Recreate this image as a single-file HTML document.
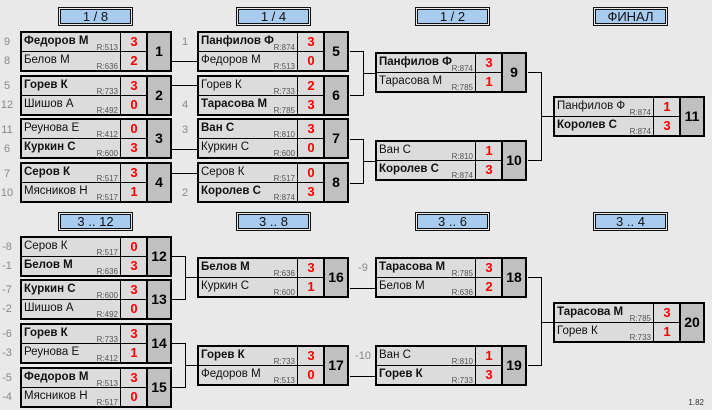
<!DOCTYPE html>
<html><head><meta charset="utf-8"><style>
body{margin:0;width:712px;height:410px;background:#e9e9e9;font-family:"Liberation Sans",sans-serif;position:relative;overflow:hidden}
.h{position:absolute;width:71px;height:15px;border:1px solid #111;box-shadow:inset 0 0 0 1px #e9e9e9,inset 0 0 0 2px #111;background:#a8cbf0;text-align:center;font-size:13px;line-height:15px;color:#111;padding:1px}
.m{position:absolute;width:148px;height:37px;border:2px solid #000;background:#dcdcdc}
.r{position:absolute;left:0;width:124px;height:18px}
.r1{top:0;border-bottom:1px solid #000}
.r2{top:19px}
.n{position:absolute;left:0;top:0;width:99px;height:18px;border-right:1px solid #000;font-size:11.5px;line-height:17px;padding-left:2px;box-sizing:border-box;white-space:nowrap;color:#111}
.b .n{font-weight:bold}
.rt{position:absolute;right:2px;bottom:-1px;font-size:8px;color:#555;line-height:9px;font-weight:normal}
.s{position:absolute;left:100px;width:24px;text-align:center;color:#f00;font-weight:bold;font-size:13px;line-height:18px;top:0}
.num{position:absolute;left:124px;top:0;width:22px;height:37px;border-left:2px solid #000;background:#c0c0c0;font-weight:bold;font-size:14px;line-height:37px;text-align:center;color:#000}
.sd{position:absolute;font-size:11px;color:#888;width:20px;text-align:center}
.v{position:absolute;right:8px;bottom:3px;font-size:8px;color:#333}
svg{position:absolute;left:0;top:0}
</style></head><body>
<svg width="712" height="410"><g stroke="#000" stroke-width="1" fill="none" shape-rendering="crispEdges">
<path d="M172 61.5H197M172 85.5H197M172 149.5H197M172 173.5H197"/>
<path d="M350 51.5H363.5V95.5H350M363 73.5H375M350 139.5H363.5V183.5H350M363 161.5H375"/>
<path d="M528 72.5H541.5V160.5H528M541 116.5H553"/>
<path d="M172 256.5H185.5V299.5H172M185 277.5H197M172 343.5H185.5V387.5H172M185 365.5H197"/>
<path d="M350 288.5H375M350 376.5H375"/>
<path d="M528 277.5H541.5V365.5H528M541 322.5H553"/>
</g></svg>

<div class="h" style="left:58px;top:7px">1 / 8</div>
<div class="h" style="left:236px;top:7px">1 / 4</div>
<div class="h" style="left:415px;top:7px">1 / 2</div>
<div class="h" style="left:593px;top:7px">ФИНАЛ</div>
<div class="h" style="left:58px;top:212px">3 .. 12</div>
<div class="h" style="left:236px;top:212px">3 .. 8</div>
<div class="h" style="left:415px;top:212px">3 .. 6</div>
<div class="h" style="left:593px;top:212px">3 .. 4</div>

<div class="sd" style="left:-3px;top:36px">9</div><div class="sd" style="left:-3px;top:55px">8</div>
<div class="sd" style="left:-3px;top:80px">5</div><div class="sd" style="left:-3px;top:99px">12</div>
<div class="sd" style="left:-3px;top:124px">11</div><div class="sd" style="left:-3px;top:143px">6</div>
<div class="sd" style="left:-3px;top:168px">7</div><div class="sd" style="left:-3px;top:187px">10</div>
<div class="sd" style="left:175px;top:36px">1</div><div class="sd" style="left:175px;top:99px">4</div>
<div class="sd" style="left:175px;top:124px">3</div><div class="sd" style="left:175px;top:187px">2</div>
<div class="sd" style="left:-3px;top:241px">-8</div><div class="sd" style="left:-3px;top:260px">-1</div>
<div class="sd" style="left:-3px;top:284px">-7</div><div class="sd" style="left:-3px;top:303px">-2</div>
<div class="sd" style="left:-3px;top:328px">-6</div><div class="sd" style="left:-3px;top:347px">-3</div>
<div class="sd" style="left:-3px;top:372px">-5</div><div class="sd" style="left:-3px;top:391px">-4</div>
<div class="sd" style="left:353px;top:262px">-9</div><div class="sd" style="left:353px;top:350px">-10</div>

<div class="m" style="left:20px;top:31px"><div class="r r1 b"><div class="n">Федоров М<span class="rt">R:513</span></div><div class="s">3</div></div><div class="r r2"><div class="n">Белов М<span class="rt">R:636</span></div><div class="s">2</div></div><div class="num">1</div></div>
<div class="m" style="left:20px;top:75px"><div class="r r1 b"><div class="n">Горев К<span class="rt">R:733</span></div><div class="s">3</div></div><div class="r r2"><div class="n">Шишов А<span class="rt">R:492</span></div><div class="s">0</div></div><div class="num">2</div></div>
<div class="m" style="left:20px;top:118px"><div class="r r1"><div class="n">Реунова Е<span class="rt">R:412</span></div><div class="s">0</div></div><div class="r r2 b"><div class="n">Куркин С<span class="rt">R:600</span></div><div class="s">3</div></div><div class="num">3</div></div>
<div class="m" style="left:20px;top:162px"><div class="r r1 b"><div class="n">Серов К<span class="rt">R:517</span></div><div class="s">3</div></div><div class="r r2"><div class="n">Мясников Н<span class="rt">R:517</span></div><div class="s">1</div></div><div class="num">4</div></div>

<div class="m" style="left:197px;top:31px"><div class="r r1 b"><div class="n">Панфилов Ф<span class="rt">R:874</span></div><div class="s">3</div></div><div class="r r2"><div class="n">Федоров М<span class="rt">R:513</span></div><div class="s">0</div></div><div class="num">5</div></div>
<div class="m" style="left:197px;top:75px"><div class="r r1"><div class="n">Горев К<span class="rt">R:733</span></div><div class="s">2</div></div><div class="r r2 b"><div class="n">Тарасова М<span class="rt">R:785</span></div><div class="s">3</div></div><div class="num">6</div></div>
<div class="m" style="left:197px;top:118px"><div class="r r1 b"><div class="n">Ван С<span class="rt">R:810</span></div><div class="s">3</div></div><div class="r r2"><div class="n">Куркин С<span class="rt">R:600</span></div><div class="s">0</div></div><div class="num">7</div></div>
<div class="m" style="left:197px;top:162px"><div class="r r1"><div class="n">Серов К<span class="rt">R:517</span></div><div class="s">0</div></div><div class="r r2 b"><div class="n">Королев С<span class="rt">R:874</span></div><div class="s">3</div></div><div class="num">8</div></div>

<div class="m" style="left:375px;top:52px"><div class="r r1 b"><div class="n">Панфилов Ф<span class="rt">R:874</span></div><div class="s">3</div></div><div class="r r2"><div class="n">Тарасова М<span class="rt">R:785</span></div><div class="s">1</div></div><div class="num">9</div></div>
<div class="m" style="left:375px;top:140px"><div class="r r1"><div class="n">Ван С<span class="rt">R:810</span></div><div class="s">1</div></div><div class="r r2 b"><div class="n">Королев С<span class="rt">R:874</span></div><div class="s">3</div></div><div class="num">10</div></div>

<div class="m" style="left:553px;top:96px"><div class="r r1"><div class="n">Панфилов Ф<span class="rt">R:874</span></div><div class="s">1</div></div><div class="r r2 b"><div class="n">Королев С<span class="rt">R:874</span></div><div class="s">3</div></div><div class="num">11</div></div>

<div class="m" style="left:20px;top:236px"><div class="r r1"><div class="n">Серов К<span class="rt">R:517</span></div><div class="s">0</div></div><div class="r r2 b"><div class="n">Белов М<span class="rt">R:636</span></div><div class="s">3</div></div><div class="num">12</div></div>
<div class="m" style="left:20px;top:279px"><div class="r r1 b"><div class="n">Куркин С<span class="rt">R:600</span></div><div class="s">3</div></div><div class="r r2"><div class="n">Шишов А<span class="rt">R:492</span></div><div class="s">0</div></div><div class="num">13</div></div>
<div class="m" style="left:20px;top:323px"><div class="r r1 b"><div class="n">Горев К<span class="rt">R:733</span></div><div class="s">3</div></div><div class="r r2"><div class="n">Реунова Е<span class="rt">R:412</span></div><div class="s">1</div></div><div class="num">14</div></div>
<div class="m" style="left:20px;top:367px"><div class="r r1 b"><div class="n">Федоров М<span class="rt">R:513</span></div><div class="s">3</div></div><div class="r r2"><div class="n">Мясников Н<span class="rt">R:517</span></div><div class="s">0</div></div><div class="num">15</div></div>

<div class="m" style="left:197px;top:257px"><div class="r r1 b"><div class="n">Белов М<span class="rt">R:636</span></div><div class="s">3</div></div><div class="r r2"><div class="n">Куркин С<span class="rt">R:600</span></div><div class="s">1</div></div><div class="num">16</div></div>
<div class="m" style="left:197px;top:345px"><div class="r r1 b"><div class="n">Горев К<span class="rt">R:733</span></div><div class="s">3</div></div><div class="r r2"><div class="n">Федоров М<span class="rt">R:513</span></div><div class="s">0</div></div><div class="num">17</div></div>

<div class="m" style="left:375px;top:257px"><div class="r r1 b"><div class="n">Тарасова М<span class="rt">R:785</span></div><div class="s">3</div></div><div class="r r2"><div class="n">Белов М<span class="rt">R:636</span></div><div class="s">2</div></div><div class="num">18</div></div>
<div class="m" style="left:375px;top:345px"><div class="r r1"><div class="n">Ван С<span class="rt">R:810</span></div><div class="s">1</div></div><div class="r r2 b"><div class="n">Горев К<span class="rt">R:733</span></div><div class="s">3</div></div><div class="num">19</div></div>

<div class="m" style="left:553px;top:302px"><div class="r r1 b"><div class="n">Тарасова М<span class="rt">R:785</span></div><div class="s">3</div></div><div class="r r2"><div class="n">Горев К<span class="rt">R:733</span></div><div class="s">1</div></div><div class="num">20</div></div>

<div class="v">1.82</div>
</body></html>
